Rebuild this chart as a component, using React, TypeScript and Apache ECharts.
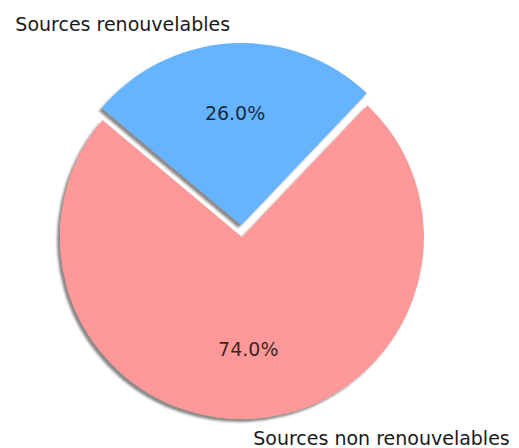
import React, { useEffect, useRef } from "react";
import * as echarts from "echarts";

const categories = ["Sources renouvelables", "Sources non renouvelables"];
const values = [26, 74];
const colors = ["#66b3ff", "#ff9999"];
const exploded = [true, false];

export default function App() {
  const ref = useRef<HTMLDivElement>(null);
  useEffect(() => {
    if (!ref.current) return;
    const chart = echarts.init(ref.current, undefined, { renderer: "svg" });
    const R = 182;
    const center = [242, 237];
    const font = "DejaVu Sans";
    const mainData = categories.map((name, i) => ({
      name,
      value: values[i],
      selected: exploded[i],
      itemStyle: { color: colors[i] },
    }));
    const pctData = categories.map((name, i) => ({
      name,
      value: values[i],
      selected: exploded[i],
    }));
    chart.setOption({
      animation: false,
      backgroundColor: "#ffffff",
      series: [
        {
          type: "pie",
          center,
          radius: [0, R],
          startAngle: 140,
          clockwise: true,
          selectedMode: "single",
          selectedOffset: 12,
          avoidLabelOverlap: false,
          silent: true,
          itemStyle: {
            borderWidth: 0,
            shadowColor: "rgba(50,40,40,0.55)",
            shadowBlur: 2,
            shadowOffsetX: -3,
            shadowOffsetY: 3,
          },
          label: {
            show: true,
            position: "outside",
            distanceToLabelLine: 0,
            color: "#1a1a1a",
            fontFamily: font,
            fontSize: 19,
          },
          labelLine: { show: false, length: 19, length2: 0 },
          emphasis: { disabled: true },
          data: mainData,
        },
        {
          type: "pie",
          center,
          radius: [R * 0.2, R],
          startAngle: 140,
          clockwise: true,
          selectedMode: "single",
          selectedOffset: 12,
          avoidLabelOverlap: false,
          silent: true,
          itemStyle: { color: "rgba(0,0,0,0)", borderWidth: 0 },
          label: {
            show: true,
            position: "inside",
            color: "rgba(0,0,0,0.78)",
            fontFamily: font,
            fontSize: 19,
            formatter: (p: any) => p.percent.toFixed(1) + "%",
          },
          labelLine: { show: false },
          emphasis: { disabled: true },
          data: pctData,
        },
      ],
    });
    return () => chart.dispose();
  }, []);
  return (
    <div
      ref={ref}
      style={{ position: "fixed", left: 0, top: 0, width: 519, height: 448 }}
    />
  );
}
